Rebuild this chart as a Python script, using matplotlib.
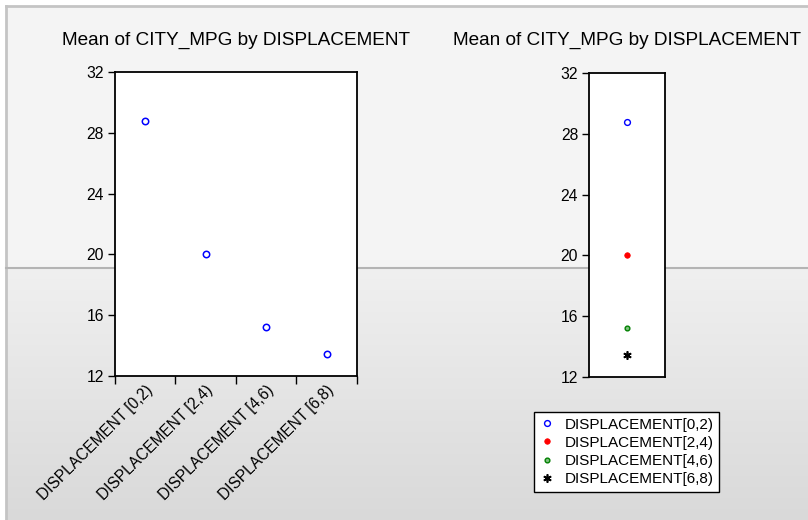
import numpy as np
import matplotlib
matplotlib.use("Agg")
import matplotlib.pyplot as plt
from matplotlib.patches import Rectangle
from matplotlib.lines import Line2D
from matplotlib.colors import LinearSegmentedColormap

plt.rcParams['font.family'] = ['Liberation Sans', 'DejaVu Sans']

categories = ["DISPLACEMENT [0,2)", "DISPLACEMENT [2,4)", "DISPLACEMENT [4,6)", "DISPLACEMENT [6,8)"]
legend_labels = ["DISPLACEMENT[0,2)", "DISPLACEMENT[2,4)", "DISPLACEMENT[4,6)", "DISPLACEMENT[6,8)"]
mean_city_mpg = [28.8, 20.0, 15.2, 13.4]
y_ticks = [12, 16, 20, 24, 28, 32]
title = "Mean of CITY_MPG by DISPLACEMENT"

W, H = 808, 520
fig = plt.figure(figsize=(W / 100, H / 100), dpi=100)
fig.patch.set_facecolor('white')

# background
bg = fig.add_axes([0, 0, 1, 1], zorder=-10)
bg.axis('off')
bg.add_patch(Rectangle((6, 6), W, 262, facecolor='#f4f4f4', edgecolor='none'))
grad = np.linspace(0, 1, 256).reshape(-1, 1)
cm = LinearSegmentedColormap.from_list('g', ['#f0f0f0', '#d9d9d9'])
bg.imshow(grad, extent=(6, W, H, 268), cmap=cm, aspect='auto', interpolation='bilinear')
bg.plot([6, W], [6, 6], color='#c4c4c4', lw=2)
bg.plot([6, 6], [6, H], color='#c4c4c4', lw=2)
bg.plot([6, W], [268, 268], color='#b4b4b4', lw=1.5)
bg.set_xlim(0, W)
bg.set_ylim(H, 0)

def style_y(ax):
    ax.set_ylim(12, 32)
    ax.set_yticks(y_ticks)
    ax.tick_params(axis='y', direction='out', length=5, width=1, labelsize=11.3, pad=3)
    for s in ax.spines.values():
        s.set_linewidth(1.3)
        s.set_color('black')
    ax.set_facecolor('white')

# Left axes
ax1 = fig.add_axes([115 / W, 1 - 375.5 / H, 242 / W, 303.2 / H])
style_y(ax1)
x = np.arange(len(categories)) + 0.5
ax1.plot(x, mean_city_mpg, linestyle='none', marker='o', markersize=4.6,
         markerfacecolor='none', markeredgecolor='blue', markeredgewidth=1.1)
ax1.set_xlim(0, len(categories))
ax1.set_xticks(np.arange(len(categories) + 1))
ax1.set_xticklabels([])
ax1.set_xticks(x, minor=True)
ax1.set_xticklabels(categories, minor=True, rotation=45, ha='right', va='top',
                    rotation_mode='anchor', fontsize=11.2)
ax1.tick_params(axis='x', which='major', direction='out', length=6, width=1)
ax1.tick_params(axis='x', which='minor', length=0, pad=5)
fig.text(236 / W, 1 - 45 / H, title, ha='center', va='baseline', fontsize=13.7)

# Right axes
ax2 = fig.add_axes([589.3 / W, 1 - 376.7 / H, 75.7 / W, 303.4 / H])
style_y(ax2)
ax2.set_xlim(0, 1)
ax2.set_xticks([])
styles = [
    dict(marker='o', markersize=4.2, markerfacecolor='none', markeredgecolor='blue', markeredgewidth=1.0),
    dict(marker='o', markersize=4.0, markerfacecolor='red', markeredgecolor='red', markeredgewidth=0.5),
    dict(marker='o', markersize=3.4, markerfacecolor='#7fbf7f', markeredgecolor='green', markeredgewidth=1.0),
    dict(marker=(6, 2, 0), markersize=6, markeredgecolor='black', markerfacecolor='black', markeredgewidth=1.2),
]
handles = []
for v, st, lab in zip(mean_city_mpg, styles, legend_labels):
    ax2.plot([0.5], [v], linestyle='none', **st)
    handles.append(Line2D([], [], linestyle='none', **st, label=lab))
fig.text(627 / W, 1 - 45 / H, title, ha='center', va='baseline', fontsize=13.7)

leg = fig.legend(handles=handles, loc='upper left', bbox_to_anchor=(534 / W, 1 - 411.7 / H),
                 borderaxespad=0, fancybox=False, edgecolor='black', framealpha=1,
                 facecolor='white', fontsize=11.0, handlelength=1.0, handletextpad=0.6,
                 labelspacing=0.28, borderpad=0.38)
leg.get_frame().set_linewidth(1.0)

fig.savefig('out.png', dpi=100)
